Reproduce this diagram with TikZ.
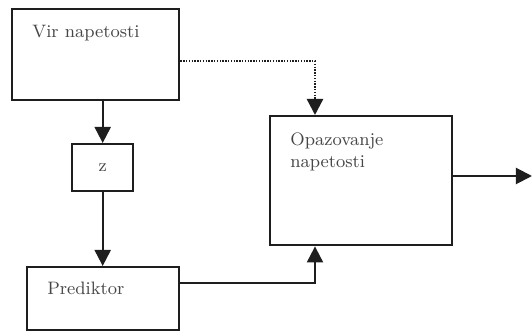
\documentclass[tikz,border=0pt]{standalone}
\usetikzlibrary{arrows.meta,positioning,calc}
\definecolor{ink}{RGB}{30,30,30}
\definecolor{muted}{RGB}{70,70,70}
\tikzset{
    block/.style={
        rectangle,
        draw=ink,
        line width=1.2pt,
        anchor=north west,
        inner sep=0pt
    },
    blocklabel/.style={
        font=\fontsize{9}{11}\selectfont,
        text=muted,
        anchor=base west,
        align=left,
        inner sep=0pt
    },
    flowarrow/.style={
        -{Triangle[width=8pt,length=8pt]},
        draw=ink,
        line width=1pt
    },
    feedarrow/.style={
        flowarrow,
        line width=1.2pt,
        dash pattern=on 0.7pt off 0.7pt
    }
}

\begin{document}
\begin{tikzpicture}[x=0.5pt, y=-0.5pt]
\useasboundingbox (0,0) rectangle (532,331);

% Blocks
\node[block, minimum width=83.5pt, minimum height=45.5pt] (vir) at (11,8) {};
\node[block, minimum width=30.5pt, minimum height=23.5pt,
      font=\fontsize{9}{11}\selectfont, text=muted] (z) at (71,143) {z};
\node[block, minimum width=76pt, minimum height=31.5pt] (pred) at (26,266) {};
\node[block, minimum width=91pt, minimum height=64.5pt] (opa) at (269,115) {};

% Block texts (base west = baseline of the last line)
\node[blocklabel] (virtext) at ($(vir.north west)+(21,30)$) {Vir napetosti};
\node[blocklabel] (predtext) at ($(pred.north west)+(21,29)$) {Prediktor};
\node[blocklabel] (opatext) at ($(opa.north west)+(21,53)$) {Opazovanje\\napetosti};

% Connectors
\coordinate (tap) at (315,0);
\coordinate (virout) at ($(vir.east)+(0,6.5)$);
\coordinate (predout) at ($(pred.north east)+(0,17)$);
\coordinate (obsout) at (532,176);

\draw[flowarrow] (z.north |- vir.south) -- (z.north);
\draw[flowarrow] (z.south) -- (z.south |- pred.north);
\draw[feedarrow] (virout) -| (tap |- opa.north);
\draw[flowarrow] (predout) -| (tap |- opa.south);
\draw[flowarrow] (opa.east |- obsout) -- (obsout);
\end{tikzpicture}
\end{document}
